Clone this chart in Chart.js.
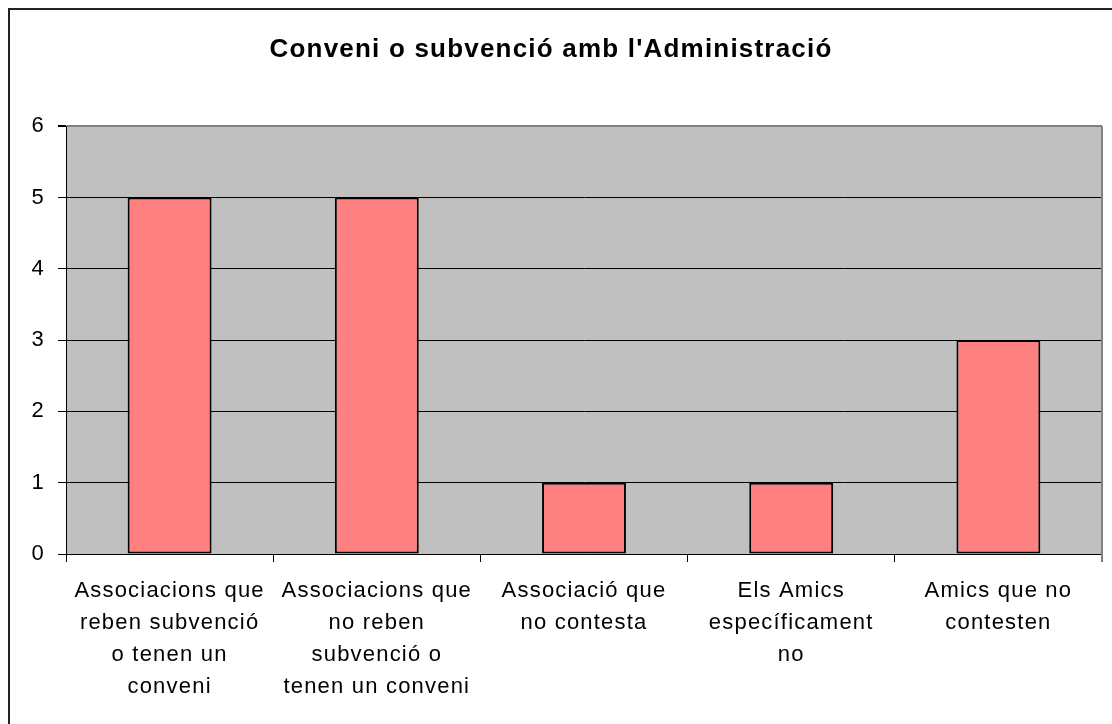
<!DOCTYPE html>
<html>
<head>
<meta charset="utf-8">
<script src="https://cdn.jsdelivr.net/npm/chart.js@4/dist/chart.umd.min.js"></script>
<style>
html,body{margin:0;padding:0;background:#fff;}
#wrap{width:1112px;height:724px;position:relative;}
</style>
</head>
<body>
<div id="wrap"><canvas id="c" width="1112" height="724"></canvas></div>
<script>
const chartTitle = "Conveni o subvenció amb l'Administració";
const categories = [
  ["Associacions que", "reben subvenció", "o tenen un", "conveni"],
  ["Associacions que", "no reben", "subvenció o", "tenen un conveni"],
  ["Associació que", "no contesta"],
  ["Els Amics", "específicament", "no"],
  ["Amics que no", "contesten"]
];
const values = [5, 5, 1, 1, 3];
const yTicks = [0, 1, 2, 3, 4, 5, 6];

const FONT = "'Liberation Sans', Arial, sans-serif";
const SPACING = '1.2px';

const framePlugin = {
  id: 'frame',
  beforeInit(chart) { chart.ctx.letterSpacing = SPACING; },
  beforeUpdate(chart) { chart.ctx.letterSpacing = SPACING; },
  beforeDraw(chart) {
    const ctx = chart.ctx;
    ctx.letterSpacing = SPACING;
    ctx.save();
    ctx.fillStyle = '#fff';
    ctx.fillRect(0, 0, chart.width, chart.height);
    ctx.strokeStyle = '#222';
    ctx.lineWidth = 2;
    ctx.strokeRect(9, 9, chart.width + 20, chart.height + 20);
    const a = chart.chartArea;
    ctx.fillStyle = '#C0C0C0';
    ctx.fillRect(a.left, a.top, a.right - a.left, a.bottom - a.top);
    ctx.restore();
  },
  afterDatasetsDraw(chart) {
    const ctx = chart.ctx;
    const a = chart.chartArea;
    ctx.save();
    ctx.strokeStyle = '#808080';
    ctx.lineWidth = 2;
    ctx.beginPath();
    ctx.moveTo(a.right, a.top);
    ctx.lineTo(a.right, a.bottom + 8);
    ctx.stroke();
    ctx.restore();
  }
};

new Chart(document.getElementById('c'), {
  type: 'bar',
  data: {
    labels: categories,
    datasets: [{
      data: values,
      backgroundColor: '#FF8080',
      borderColor: '#000',
      borderWidth: 2,
      borderSkipped: false,
      barPercentage: 0.405,
      categoryPercentage: 1.0
    }]
  },
  options: {
    responsive: false,
    animation: false,
    devicePixelRatio: 1,
    layout: { padding: { left: 0, right: 10, top: 0, bottom: 0 } },
    plugins: {
      legend: { display: false },
      tooltip: { enabled: false },
      title: {
        display: true,
        text: chartTitle,
        color: '#000',
        font: { family: FONT, size: 26, weight: 'bold', lineHeight: 1.2 },
        padding: { top: 34, bottom: 61 }
      }
    },
    scales: {
      x: {
        grid: {
          offset: true,
          drawOnChartArea: false,
          drawTicks: true,
          tickLength: 8,
          color: '#000',
          lineWidth: 1
        },
        border: { display: true, color: '#000', width: 1 },
        ticks: {
          color: '#000',
          maxRotation: 0,
          autoSkip: false,
          padding: 13,
          font: { family: FONT, size: 22, lineHeight: 1.455 }
        },
        afterFit(s) { s.height = 170; }
      },
      y: {
        min: 0,
        max: 6,
        afterBuildTicks(s) { s.ticks = yTicks.map(v => ({ value: v })); },
        grid: {
          color: (c) => (c.tick && c.tick.value === 6) ? '#808080' : '#000',
          lineWidth: (c) => (c.tick && c.tick.value === 6) ? 2 : 1,
          tickLength: 8,
          tickColor: '#000'
        },
        border: { display: true, color: '#000', width: 1 },
        ticks: {
          color: '#000',
          padding: 13,
          font: { family: FONT, size: 22 }
        },
        afterFit(s) { s.width = 66; }
      }
    }
  },
  plugins: [framePlugin]
});
</script>
</body>
</html>
